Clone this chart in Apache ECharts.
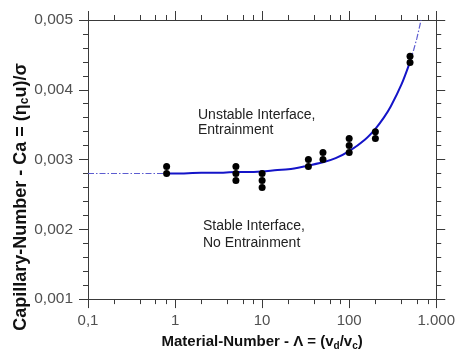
<!DOCTYPE html>
<html>
<head>
<meta charset="utf-8">
<script src="https://cdn.jsdelivr.net/npm/echarts@6/dist/echarts.min.js"></script>
<style>
  html, body { margin: 0; background: #fff; }
  #chart { width: 458px; height: 356px; }
</style>
</head>
<body>
<div id="chart"></div>
<script>
// measured points (black dots)
const dotX = [0.8, 0.8, 5, 5, 5, 10, 10, 10, 34, 34, 50, 50, 100, 100, 100, 200, 200, 500, 500]
const dotY = [0.0029, 0.0028, 0.0029, 0.0028, 0.0027, 0.0028, 0.0027, 0.0026, 0.0030, 0.0029,
              0.0031, 0.0030, 0.0033, 0.0032, 0.0031, 0.0034, 0.0033, 0.00448, 0.00439]

// boundary curve
const fitX = [0.8, 1, 2, 3, 5, 7, 10, 15, 20, 30, 50, 70, 100, 150, 200, 250, 300, 400, 500]
const fitY = [0.00280, 0.00280, 0.00281, 0.00281, 0.00282, 0.00282, 0.00283, 0.00285, 0.00286, 0.00290,
              0.00296, 0.00302, 0.00312, 0.00328, 0.00344, 0.00360, 0.00376, 0.00408, 0.00440]

// extrapolated parts (dash-dot)
const lowX = [0.1, 0.8]
const lowY = [0.0028, 0.0028]
const highX = [500, 550, 600, 670]
const highY = [0.0044, 0.00457, 0.00474, 0.00500]

const xTickLabels = { 0.1: "0,1", 1: "1", 10: "10", 100: "100", 1000: "1.000" }
const xMinorTicks = [0.2, 0.4, 0.6, 0.8, 2, 4, 6, 8, 20, 40, 60, 80, 200, 400, 600, 800]

const font = '"Liberation Sans", Arial, sans-serif'
const axisColor = "#3a3a3a"
const zip = (xs, ys) => xs.map((x, i) => [x, ys[i]])

const chart = echarts.init(document.getElementById("chart"))

const baseX = {
    type: "log",
    logBase: 10,
    min: 0.1,
    max: 1000,
    splitLine: { show: false },
    axisLine: { lineStyle: { color: axisColor, width: 1 } },
    axisTick: { length: 9, lineStyle: { color: axisColor } },
    axisLabel: { show: false },
}
const minorX = {
    ...baseX,
    axisLine: { show: false },
    axisTick: { length: 5, lineStyle: { color: axisColor }, customValues: xMinorTicks },
}
const baseY = {
    type: "value",
    min: 0.001,
    max: 0.005,
    interval: 0.001,
    splitLine: { show: false },
    axisLine: { show: true, lineStyle: { color: axisColor, width: 1 } },
    axisTick: { show: true, length: 9, lineStyle: { color: axisColor } },
    minorTick: { show: true, splitNumber: 5, length: 5, lineStyle: { color: axisColor } },
    axisLabel: { show: false },
}

const option = {
    animation: false,
    textStyle: { fontFamily: font },
    grid: { left: 88, right: 17, top: 20, bottom: 49 },
    xAxis: [
        {
            ...baseX,
            position: "bottom",
            axisLabel: {
                show: true,
                margin: 14,
                fontSize: 15,
                color: "#505050",
                fontFamily: font,
                formatter: (v) => xTickLabels[+v.toPrecision(3)] || "",
            },
            name: "Material-Number - Λ = (v{sub|d}/v{sub|c})",
            nameLocation: "middle",
            nameGap: 24,
            nameTextStyle: {
                fontSize: 15,
                fontWeight: "bold",
                color: "#111",
                fontFamily: font,
                lineHeight: 18,
                rich: {
                    sub: { fontSize: 10, fontWeight: "bold", verticalAlign: "bottom", lineHeight: 12, fontFamily: font },
                },
            },
        },
        { ...minorX, position: "bottom" },
        { ...baseX, position: "top" },
        { ...minorX, position: "top" },
    ],
    yAxis: [
        {
            ...baseY,
            position: "left",
            axisLabel: {
                show: true,
                margin: 15,
                fontSize: 15.5,
                color: "#505050",
                fontFamily: font,
                formatter: (v) => v.toFixed(3).replace(".", ","),
            },
        },
        { ...baseY, position: "right" },
    ],
    graphic: [
        {
            type: "text",
            x: 21,
            y: 197,
            rotation: Math.PI / 2,
            style: {
                text: "Capillary-Number - Ca = (η{sub|c}u)/σ",
                font: "bold 18px " + font,
                fill: "#111",
                align: "center",
                verticalAlign: "middle",
                lineHeight: 20,
                rich: {
                    sub: { font: "bold 12px " + font, verticalAlign: "bottom", lineHeight: 14 },
                },
            },
        },
        {
            type: "text",
            left: 198,
            top: 108,
            style: { text: "Unstable Interface,\nEntrainment", font: "14px " + font, fill: "#222", lineHeight: 15 },
        },
        {
            type: "text",
            left: 203,
            top: 218,
            style: { text: "Stable Interface,\nNo Entrainment", font: "14px " + font, fill: "#222", lineHeight: 16.5 },
        },
    ],
    series: [
        {
            type: "line",
            data: zip(lowX, lowY),
            showSymbol: false,
            lineStyle: { color: "#5c5cd0", width: 1.2, type: [6, 2, 1.5, 2] },
        },
        {
            type: "line",
            data: zip(highX, highY),
            showSymbol: false,
            lineStyle: { color: "#5c5cd0", width: 1.2, type: [6, 2, 1.5, 2] },
        },
        {
            type: "line",
            data: zip(fitX, fitY),
            smooth: 0.3,
            showSymbol: false,
            lineStyle: { color: "#1414c8", width: 2 },
        },
        {
            type: "scatter",
            data: zip(dotX, dotY),
            symbolSize: 7,
            itemStyle: { color: "#000", opacity: 1 },
            z: 5,
        },
    ],
}

chart.setOption(option)
window.addEventListener("resize", () => chart.resize())
</script>
</body>
</html>
